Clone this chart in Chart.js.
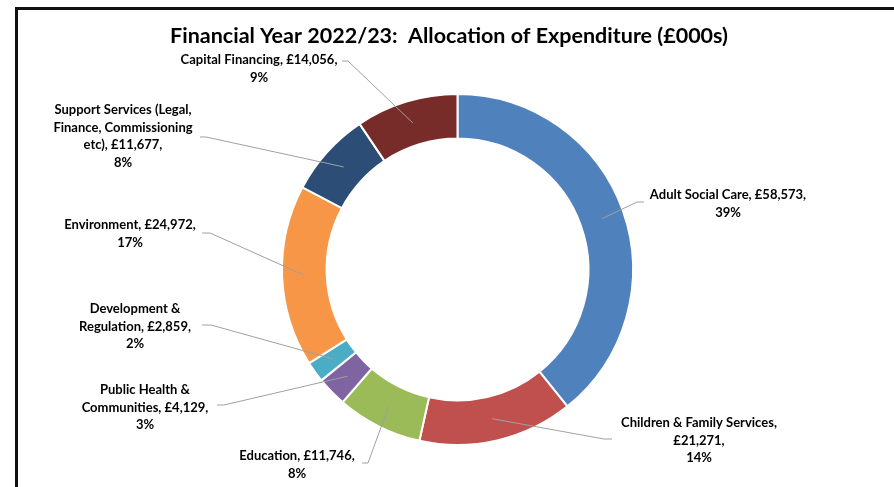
<!DOCTYPE html>
<html>
<head>
<meta charset="utf-8">
<title>Allocation of Expenditure 2022/23</title>
<script src="https://cdn.jsdelivr.net/npm/chart.js@4.4.0/dist/chart.umd.min.js"></script>
<style>
  html, body { margin: 0; padding: 0; background: #fff; }
  #wrap { width: 894px; height: 487px; }
</style>
</head>
<body>
<div id="wrap"><canvas id="chart" width="894" height="487"></canvas></div>
<script>
const title = 'Financial Year 2022/23:  Allocation of Expenditure (£000s)';

const categories = [
  'Adult Social Care',
  'Children & Family Services',
  'Education',
  'Public Health & Communities',
  'Development & Regulation',
  'Environment',
  'Support Services (Legal, Finance, Commissioning etc)',
  'Capital Financing'
];

// £000s
const spend = [58573, 21271, 11746, 4129, 2859, 24972, 11677, 14056];

const colours = ['#4F81BD', '#C0504D', '#9BBB59', '#8064A2', '#4BACC6', '#F79646', '#2C4D75', '#772C2A'];

// where each callout sits: text centre (x, y of first line), wrap width,
// and the leader's start point with its short horizontal stub (dx)
const callouts = [
  { x: 728, y: 195, wrap: 235, ax: 644, ay: 202, dx: -7 },
  { x: 699, y: 423, wrap: 190, ax: 612, ay: 439, dx: -8 },
  { x: 297, y: 456, wrap: 235, ax: 362, ay: 463, dx: 6 },
  { x: 145, y: 390, wrap: 155, ax: 217, ay: 405, dx: 7 },
  { x: 135, y: 309, wrap: 145, ax: 202, ay: 325, dx: 9 },
  { x: 130, y: 225, wrap: 235, ax: 202, ay: 233, dx: 8 },
  { x: 123, y: 110, wrap: 162, ax: 200, ay: 137, dx: 6 },
  { x: 259, y: 60,  wrap: 235, ax: 342, ay: 61,  dx: 6 }
];

const LABEL_FONT = 'bold 13px Lato';
const LINE_H = 17.6;

function wrapText(ctx, text, maxWidth) {
  const words = text.split(' ');
  const lines = [];
  let cur = '';
  words.forEach(w => {
    const test = cur ? cur + ' ' + w : w;
    if (cur && ctx.measureText(test).width > maxWidth) {
      lines.push(cur);
      cur = w;
    } else {
      cur = test;
    }
  });
  if (cur) lines.push(cur);
  return lines;
}

const calloutPlugin = {
  id: 'callouts',
  afterDraw(chart) {
    const ctx = chart.ctx;
    const meta = chart.getDatasetMeta(0);
    const total = spend.reduce((a, b) => a + b, 0);
    ctx.save();

    // outer frame (left and top edges)
    ctx.fillStyle = '#111';
    ctx.fillRect(15, 7, 3, 480);
    ctx.fillRect(15, 7, 879, 3);

    // title
    ctx.fillStyle = '#000';
    ctx.font = 'bold 21.5px Lato';
    ctx.textAlign = 'center';
    ctx.textBaseline = 'middle';
    ctx.fillText(title, 449, 36);

    meta.data.forEach((arc, i) => {
      const c = callouts[i];
      const p = arc.tooltipPosition();

      // leader line
      ctx.strokeStyle = '#A0A0A0';
      ctx.lineWidth = 1;
      ctx.beginPath();
      ctx.moveTo(c.ax, c.ay);
      ctx.lineTo(c.ax + c.dx, c.ay);
      ctx.lineTo(p.x, p.y);
      ctx.stroke();

      // label text
      ctx.font = LABEL_FONT;
      ctx.fillStyle = '#000';
      const value = '£' + spend[i].toLocaleString('en-GB');
      const lines = wrapText(ctx, categories[i] + ', ' + value + ',', c.wrap);
      lines.push(Math.round(spend[i] / total * 100) + '%');
      lines.forEach((t, k) => ctx.fillText(t, c.x, c.y + k * LINE_H));
    });

    ctx.restore();
  }
};

const ctx = document.getElementById('chart');
const chart = new Chart(ctx, {
  type: 'doughnut',
  data: {
    labels: categories,
    datasets: [{
      data: spend,
      backgroundColor: colours,
      borderColor: '#fff',
      borderWidth: 2
    }]
  },
  options: {
    responsive: false,
    animation: false,
    cutout: '74.6%',
    layout: {
      padding: { top: 93, bottom: 41, left: 281, right: 260 }
    },
    plugins: {
      legend: { display: false },
      tooltip: { enabled: false }
    }
  },
  plugins: [calloutPlugin]
});
</script>
</body>
</html>
